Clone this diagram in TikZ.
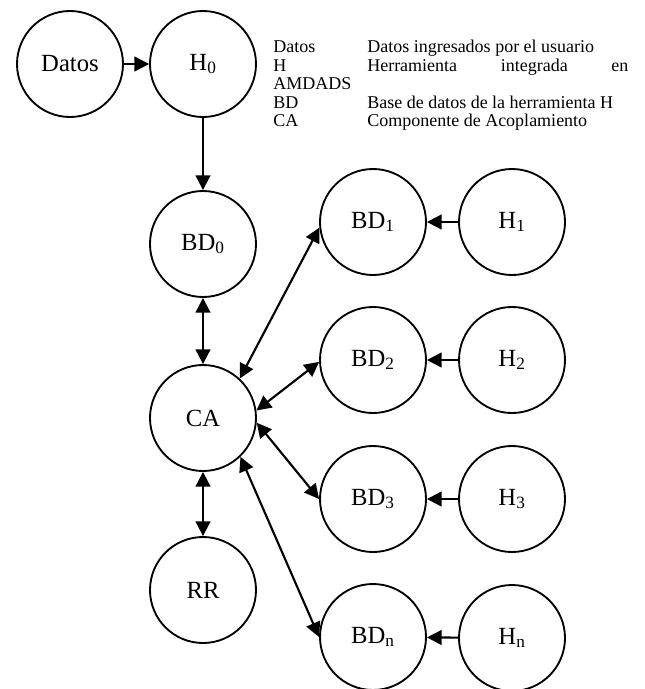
\documentclass[tikz,border=0pt]{standalone}
\usepackage{fontspec}
\setmainfont{Liberation Serif}
\usetikzlibrary{arrows.meta}

\begin{document}
\begin{tikzpicture}[x = .75pt, y = -.75pt,
	blob/.style = {draw = black, shape = circle, line width = 1.4pt, inner sep = 0pt, minimum size = 79.5pt, font = \fontsize{18.5}{21}\selectfont},
	leg/.style = {anchor = base west, inner sep = 0pt, font = \fontsize{13.5}{18}\selectfont},
	con/.style = {line width = 1.6pt, -{Triangle[length = 11pt, width = 11pt]}},
	dcon/.style = {line width = 1.6pt, {Triangle[length = 11pt, width = 11pt]}-{Triangle[length = 11pt, width = 11pt]}}]
	\useasboundingbox (0, 0) rectangle (644, 689);
	% left column
	\node[blob] (Datos) at (70, 64) {Datos};
	\node[blob] (H0) at (203, 64) {H\textsubscript{0}};
	\node[blob] (BD0) at (203, 244) {BD\textsubscript{0}};
	\node[blob] (CA) at (203, 418) {CA};
	\node[blob] (RR) at (203, 590) {RR};
	% right columns
	\node[blob] (BD1) at (373, 222) {BD\textsubscript{1}};
	\node[blob] (H1) at (512, 222) {H\textsubscript{1}};
	\node[blob] (BD2) at (373, 360) {BD\textsubscript{2}};
	\node[blob] (H2) at (512, 360) {H\textsubscript{2}};
	\node[blob] (BD3) at (373, 499) {BD\textsubscript{3}};
	\node[blob] (H3) at (512, 499) {H\textsubscript{3}};
	\node[blob] (BDn) at (373, 637) {BD\textsubscript{n}};
	\node[blob] (Hn) at (512, 638) {H\textsubscript{n}};
	% legend
	\node[leg] (k1) at (273, 52) {Datos};
	\node[leg] (d1) at (367, 52) {Datos ingresados por el usuario};
	\node[leg] (k2) at (273, 71) {H};
	\node[leg] (d2) at (367, 71) {\makebox[195.75pt][l]{Herramienta\hfill integrada\hfill en}};
	\node[leg] (d2b) at (273, 89) {AMDADS};
	\node[leg] (k3) at (273, 108) {BD};
	\node[leg] (d3) at (367, 108) {Base de datos de la herramienta H};
	\node[leg] (k4) at (273, 126) {CA};
	\node[leg] (d4) at (367, 126) {Componente de Acoplamiento};

	\draw[con] (Datos) -- (H0);
	\draw[con] (H0) -- (BD0);
	\draw[dcon] (BD0) -- (CA);
	\draw[dcon] (CA) -- (RR);
	\draw[dcon] (CA.47) -- (BD1.186);
	\draw[dcon] (CA.8) -- (BD2.182);
	\draw[dcon] (CA.-5) -- (BD3.180);
	\draw[dcon] (CA.-46) -- (BDn.180);
	\draw[con] (H1) -- (BD1);
	\draw[con] (H2) -- (BD2);
	\draw[con] (H3) -- (BD3);
	\draw[con] (Hn) -- (BDn);
\end{tikzpicture}
\end{document}
